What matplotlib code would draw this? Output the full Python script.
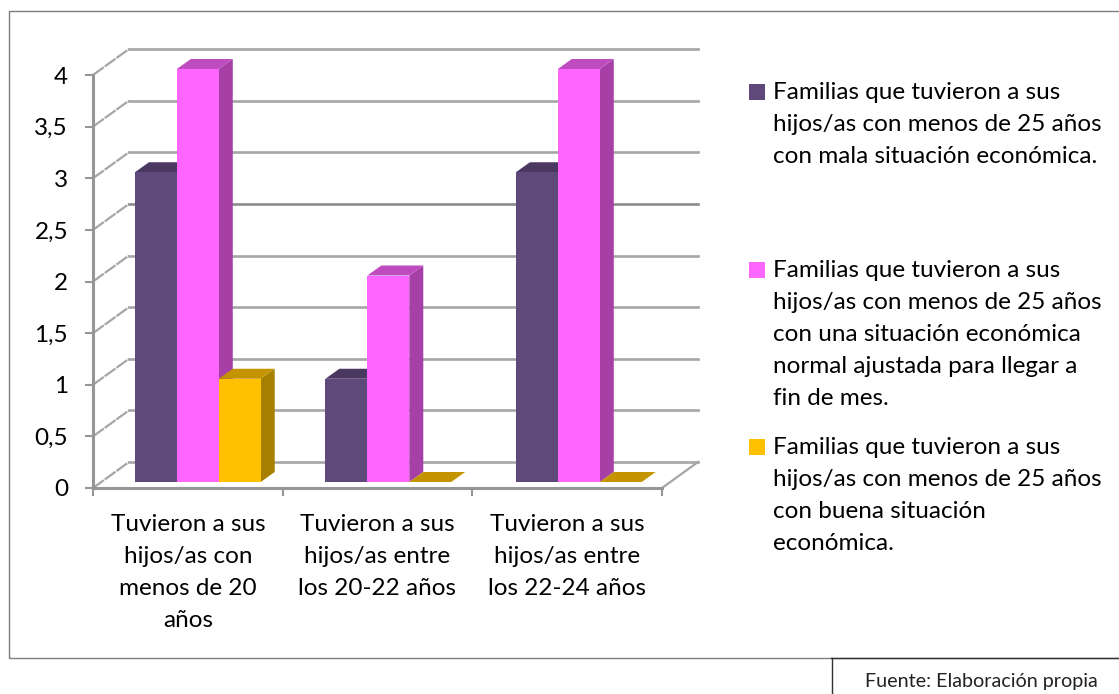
import numpy as np
import matplotlib
matplotlib.use("Agg")
import matplotlib.pyplot as plt
from matplotlib.patches import Polygon, Rectangle
from matplotlib.lines import Line2D

categorias = ["Tuvieron a sus\nhijos/as con\nmenos de 20\naños",
              "Tuvieron a sus\nhijos/as entre\nlos 20-22 años",
              "Tuvieron a sus\nhijos/as entre\nlos 22-24 años"]
mala = [3, 1, 3]
normal = [4, 2, 4]
buena = [1, 0, 0]
valores_y = [0, 0.5, 1, 1.5, 2, 2.5, 3, 3.5, 4]
etiquetas_y = ["0", "0,5", "1", "1,5", "2", "2,5", "3", "3,5", "4"]

leyenda = ["Familias que tuvieron a sus\nhijos/as con menos de 25 años\ncon mala situación económica.",
           "Familias que tuvieron a sus\nhijos/as con menos de 25 años\ncon una situación económica\nnormal ajustada para llegar a\nfin de mes.",
           "Familias que tuvieron a sus\nhijos/as con menos de 25 años\ncon buena situación\neconómica."]
fuente = "Fuente: Elaboración propia"

# cara frontal, techo, lateral
colores = [("#5F497A", "#4A3860", "#4A3860"),
           ("#FF66FF", "#BF4CBF", "#A63FA6"),
           ("#FFC000", "#C49400", "#A67F00")]

W, H = 1119, 694
plt.rcParams['font.family'] = ['Lato', 'DejaVu Sans']
fig = plt.figure(figsize=(W / 100, H / 100), dpi=100)

# ejes en pixeles de la imagen: y=0 en 488, y=4 en 75, x de 93 a 662
ax = fig.add_axes([93 / W, 1 - 488 / H, (662 - 93) / W, (488 - 75) / H])
ax.set_xlim(0, 3)
ax.set_ylim(0, 4)
ax.patch.set_alpha(0)
px = 3 / (662 - 93)
py = 4 / (488 - 75)

gris = "#A6A6A6"
for s in ["top", "right"]:
    ax.spines[s].set_visible(False)
for s in ["left", "bottom"]:
    ax.spines[s].set_color("#969696")
    ax.spines[s].set_linewidth(2.2)
    ax.spines[s].set_zorder(1)

ax.set_yticks(valores_y)
ax.set_yticklabels(etiquetas_y, fontsize=17.5, color="black")
ax.set_xticks([0, 1, 2, 3])
ax.set_xticklabels([])
ax.set_xticks([0.5, 1.5, 2.5], minor=True)
ax.set_xticklabels(categorias, minor=True, fontsize=17.5, color="black", linespacing=1.64)
ax.tick_params(axis="both", which="major", color="#969696", width=1.5, length=6)
ax.tick_params(axis="x", which="minor", length=0, pad=19)
ax.tick_params(axis="y", which="major", pad=12)

# pared del fondo y pared lateral
fx, fy = 36 * px, 26 * py
for v in valores_y:
    c = "#8C8C8C" if v == 2.5 else gris
    ax.plot([0, fx], [v, v + fy], color=gris, lw=1.6, ls=(0, (6, 0.5)), clip_on=False, zorder=1)
    ax.plot([fx, 3 + fx], [v + fy, v + fy], color=c, lw=1.9, clip_on=False, zorder=1)
ax.plot([3, 3 + fx], [0, fy], color=gris, lw=1.6, clip_on=False, zorder=1)

# barras con efecto 3d
ancho = 42 / 190
margen = 42 / 190
paso = 190.5 / 189.67
dx, dy = 14 * px, 10 * py
base = 6 * py
for s, serie in enumerate([mala, normal, buena]):
    frente, techo, lado = colores[s]
    for i, v in enumerate(serie):
        x0 = i * paso + margen + s * ancho
        x1 = x0 + ancho
        y0 = base
        y1 = base + v
        z = 3 + i * 3 + s
        ax.add_patch(Polygon([(x1, y0), (x1 + dx, y0 + dy), (x1 + dx, y1 + dy), (x1, y1)],
                             fc=lado, ec="none", clip_on=False, zorder=z))
        ax.add_patch(Polygon([(x0, y1), (x0 + dx, y1 + dy), (x1 + dx, y1 + dy), (x1, y1)],
                             fc=techo, ec="none", clip_on=False, zorder=z))
        if v > 0:
            ax.add_patch(Rectangle((x0, y0), ancho, v, fc=frente, ec="none", clip_on=False, zorder=z + 0.5))

# leyenda a mano, posiciones en pixeles
pos_leyenda = [(92, 749), (270, 749), (447, 749)]
for k, (yp, xp) in enumerate(pos_leyenda):
    fig.add_artist(Rectangle((xp / W, 1 - (yp + 8) / H), 16 / W, 16 / H, fc=colores[k][0], ec="none",
                             transform=fig.transFigure))
    fig.text(773 / W, 1 - (yp - 10) / H, leyenda[k], fontsize=17.5, color="black", va="top", ha="left",
             linespacing=1.64)

# marco exterior y caja de la fuente
fig.add_artist(Rectangle((8.5 / W, 1 - 657.5 / H), 1115 / W, 647 / H, fc="none", ec="#7F7F7F", lw=1,
                         transform=fig.transFigure))
fig.add_artist(Line2D([831 / W, 1], [1 - 657.5 / H] * 2, color="#333333", lw=1, transform=fig.transFigure))
fig.add_artist(Line2D([831.5 / W] * 2, [1 - 657.5 / H, 0], color="#333333", lw=1, transform=fig.transFigure))
fig.text(981 / W, 1 - 681 / H, fuente, fontsize=14.2, color="#222222", ha="center", va="center")

fig.savefig("out.png", dpi=100, facecolor="white")
